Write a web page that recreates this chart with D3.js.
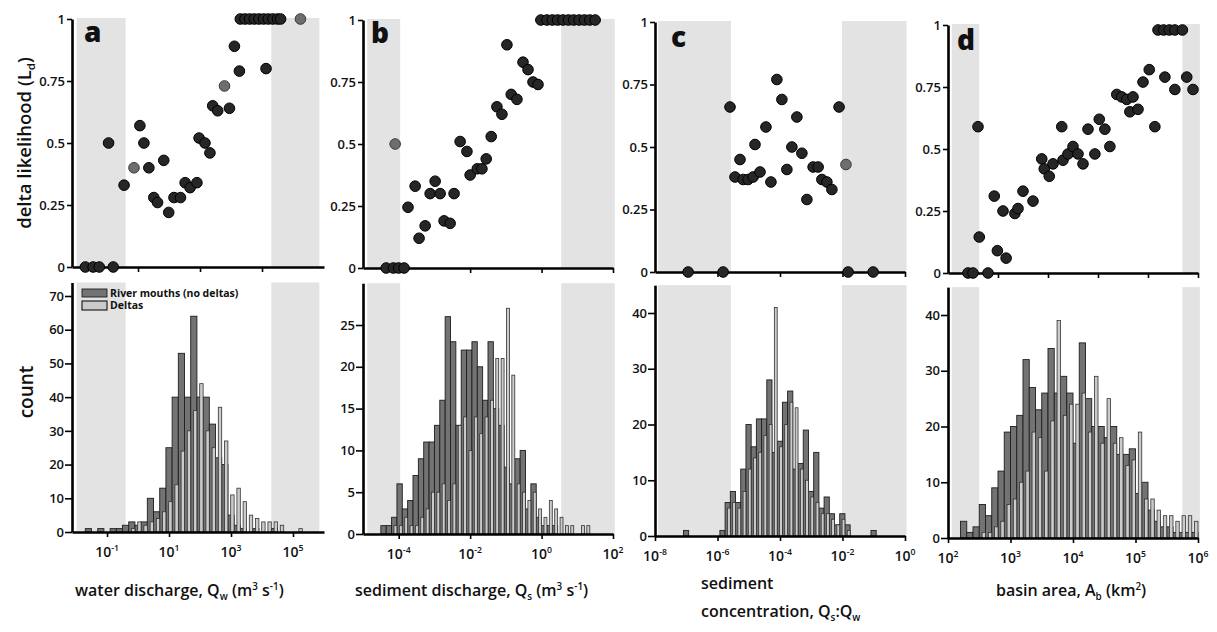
<!DOCTYPE html>
<html>
<head>
<meta charset="utf-8">
<script src="https://cdn.jsdelivr.net/npm/d3@7"></script>
<style>
  body { margin: 0; background: #fff; }
  text { font-family: 'Open Sans', 'DejaVu Sans', sans-serif; fill: #111; }
</style>
</head>
<body>
<div id="chart"></div>
<script>
// Scatter points: log10 of the x variable, delta likelihood
const aX = [-1.7, -1.45, -1.25, -0.8, -0.95, -0.45, 0.06, 0.19, 0.35, 0.51, 0.63, 0.83, 0.99, 1.16, 1.37, 1.52, 1.68, 1.9, 1.97, 2.16, 2.32, 2.41, 2.57, 2.95, 3.11, 3.27, 4.13, 3.3, 3.45, 3.6, 3.75, 3.9, 4.05, 4.2, 4.35, 4.5, 4.6]
const aY = [0, 0, 0, 0, 0.5, 0.33, 0.57, 0.5, 0.4, 0.28, 0.26, 0.43, 0.22, 0.28, 0.28, 0.34, 0.32, 0.34, 0.52, 0.5, 0.46, 0.65, 0.63, 0.64, 0.89, 0.79, 0.8, 1, 1, 1, 1, 1, 1, 1, 1, 1, 1]
const aGreyX = [-0.13, 2.79, 5.24]
const aGreyY = [0.4, 0.73, 1]

const bX = [-4.35, -4.15, -4.0, -3.85, -3.74, -3.54, -3.43, -3.26, -3.12, -2.98, -2.84, -2.73, -2.56, -2.45, -2.28, -2.09, -2.0, -1.8, -1.67, -1.55, -1.41, -1.25, -1.11, -0.97, -0.85, -0.69, -0.52, -0.38, -0.24, -0.1, -0.02, 0.15, 0.3, 0.45, 0.6, 0.75, 0.9, 1.05, 1.2, 1.35, 1.5]
const bY = [0, 0, 0, 0, 0.245, 0.33, 0.12, 0.17, 0.3, 0.35, 0.3, 0.19, 0.18, 0.3, 0.51, 0.47, 0.375, 0.4, 0.4, 0.44, 0.53, 0.65, 0.62, 0.9, 0.7, 0.68, 0.83, 0.8, 0.75, 0.74, 1, 1, 1, 1, 1, 1, 1, 1, 1, 1, 1]
const bGreyX = [-4.1]
const bGreyY = [0.5]

const cX = [-6.94, -5.82, -1.82, -1.02, -5.6, -5.44, -5.28, -5.18, -5.02, -4.86, -4.64, -4.8, -4.45, -4.29, -4.1, -3.94, -3.78, -3.62, -3.3, -3.46, -3.14, -2.94, -2.78, -2.66, -2.5, -2.34, -2.11]
const cY = [0, 0, 0, 0, 0.66, 0.38, 0.45, 0.37, 0.37, 0.38, 0.4, 0.51, 0.58, 0.36, 0.77, 0.69, 0.41, 0.5, 0.475, 0.62, 0.29, 0.42, 0.42, 0.37, 0.36, 0.33, 0.66]
const cGreyX = [-1.89]
const cGreyY = [0.43]

const dX = [2.32, 2.4, 2.64, 2.48, 2.5, 2.74, 2.79, 2.93, 2.88, 3.07, 3.12, 3.2, 3.36, 3.5, 3.54, 3.62, 3.68, 3.82, 3.84, 3.92, 4.0, 4.08, 4.16, 4.24, 4.35, 4.42, 4.51, 4.59, 4.7, 4.78, 4.86, 4.96, 4.91, 5.04, 5.12, 5.22, 5.31, 5.47, 5.63, 5.82, 5.92, 5.36, 5.45, 5.54, 5.63, 5.75]
const dY = [0, 0, 0, 0.59, 0.145, 0.31, 0.09, 0.06, 0.25, 0.24, 0.26, 0.33, 0.29, 0.46, 0.42, 0.39, 0.44, 0.59, 0.455, 0.48, 0.51, 0.48, 0.44, 0.58, 0.48, 0.62, 0.58, 0.51, 0.72, 0.71, 0.7, 0.71, 0.65, 0.66, 0.77, 0.82, 0.59, 0.79, 0.74, 0.79, 0.74, 0.98, 0.98, 0.98, 0.98, 0.98]
const dGreyX = []
const dGreyY = []

// Histograms: first bin (log10), bin width (decades), counts
const aBinStart = -1.7, aBinWidth = 0.2
const aRiver = [1, 0, 1, 0, 1, 1, 2, 3, 2, 3, 10, 6, 13, 25, 40, 53, 40, 64, 40, 40, 32, 22, 20, 5, 2, 1, 0, 1, 0, 0, 1, 0, 0, 0, 0]
const aDelta = [0, 0, 0, 0, 0, 0, 0, 1, 3, 2, 3, 4, 6, 9, 14, 24, 30, 36, 44, 30, 25, 37, 27, 11, 13, 9, 5, 4, 3, 3, 3, 2, 0, 0, 1]

const bBinStart = -4.5, bBinWidth = 0.15
const bRiver = [1, 1, 2, 6, 3, 4, 7, 9, 11, 11, 13, 16, 26, 23, 13, 22, 22, 23, 20, 16, 23, 15, 13, 8, 6, 9, 10, 3, 6, 2, 1, 1, 1, 0, 0, 0, 0, 0, 0]
const bDelta = [0, 0, 1, 1, 2, 1, 1, 2, 3, 5, 5, 6, 4, 6, 13, 14, 10, 14, 12, 14, 16, 21, 21, 27, 19, 6, 5, 4, 5, 3, 2, 4, 3, 2, 1, 1, 0, 1, 1]

const cBinStart = -7.09, cBinWidth = 0.1667
const cRiver = [1, 0, 0, 0, 0, 0, 0, 1, 6, 8, 6, 12, 20, 16, 21, 21, 28, 15, 17, 24, 26, 12, 13, 19, 8, 15, 5, 7, 4, 2, 4, 2, 0, 0, 0, 0, 1]
const cDelta = [0, 0, 0, 0, 0, 0, 0, 0, 5, 6, 5, 8, 12, 14, 15, 18, 20, 41, 16, 20, 24, 23, 12, 10, 7, 6, 4, 4, 3, 2, 3, 1, 0, 0, 0, 0, 0]

const dBinStart = 2.2, dBinWidth = 0.1
const dRiver = [3, 1, 2, 6, 4, 9, 12, 19, 20, 22, 32, 27, 23, 26, 34, 26, 29, 26, 17, 35, 25, 20, 20, 18, 20, 15, 15, 16, 8, 10, 5, 3, 2, 2, 1, 1, 1, 1]
const dDelta = [0, 0, 0, 1, 1, 2, 3, 6, 7, 10, 12, 19, 18, 12, 21, 39, 22, 24, 24, 26, 19, 29, 17, 25, 17, 18, 13, 14, 19, 7, 7, 5, 4, 4, 3, 4, 4, 3]

// Grey bands (log10 ranges)
const aShade = [[-1.98, -0.4], [4.3, 5.85]]
const bShade = [[-4.88, -3.96], [0.55, 2.05]]
const cShade = [[-7.9, -5.57], [-2.02, 0.05]]
const dShade = [[2.06, 2.5], [5.75, 6.03]]

// Ticks
const likeTicks = [0, 0.25, 0.5, 0.75, 1]
const likeLabels = ['0', '0.25', '0.5', '0.75', '1']
const aTopTicks = [0, 2, 4], aBotTicks = [-1, 1, 3, 5], aCountTicks = [0, 10, 20, 30, 40, 50, 60, 70]
const bTopTicks = [-2, 0, 2], bBotTicks = [-4, -2, 0, 2], bCountTicks = [0, 5, 10, 15, 20, 25]
const cTopTicks = [-6, -4, -2, 0], cBotTicks = [-8, -6, -4, -2, 0], cCountTicks = [0, 10, 20, 30, 40]
const dTopTicks = [2.8, 3.6, 4.4, 5.2, 6], dBotTicks = [2, 3, 4, 5, 6], dCountTicks = [0, 10, 20, 30, 40]

const width = 1217,
  height = 632

const svg = d3.select('#chart')
  .append('svg')
  .attr('width', width)
  .attr('height', height)
  .style('background', '#fff')

const shadeFill = '#e3e3e3'

// layout per panel (pixels) and its data
const panels = [
  { letter: 'a', lpos: [84, 42], dom: [-2.13, 6], rng: [72, 324], top: [267, 19], base: 532, cMax: 70, cPx: 296, cEnd: 74,
    sx: aX, sy: aY, gx: aGreyX, gy: aGreyY, start: aBinStart, bw: aBinWidth, river: aRiver, delta: aDelta,
    shade: aShade, topTicks: aTopTicks, botTicks: aBotTicks, countTicks: aCountTicks },
  { letter: 'b', lpos: [371, 43], dom: [-5, 2], rng: [363, 613], top: [268, 20], base: 534, cMax: 25, cPx: 325, cEnd: 30,
    sx: bX, sy: bY, gx: bGreyX, gy: bGreyY, start: bBinStart, bw: bBinWidth, river: bRiver, delta: bDelta,
    shade: bShade, topTicks: bTopTicks, botTicks: bBotTicks, countTicks: bCountTicks },
  { letter: 'c', lpos: [671, 47], dom: [-8, 0], rng: [655, 905], top: [272, 22], base: 536, cMax: 40, cPx: 313, cEnd: 45,
    sx: cX, sy: cY, gx: cGreyX, gy: cGreyY, start: cBinStart, bw: cBinWidth, river: cRiver, delta: cDelta,
    shade: cShade, topTicks: cTopTicks, botTicks: cBotTicks, countTicks: cCountTicks },
  { letter: 'd', lpos: [957, 50], dom: [2, 6], rng: [948, 1198], top: [273, 25], base: 538, cMax: 40, cPx: 315, cEnd: 45,
    sx: dX, sy: dY, gx: dGreyX, gy: dGreyY, start: dBinStart, bw: dBinWidth, river: dRiver, delta: dDelta,
    shade: dShade, topTicks: dTopTicks, botTicks: dBotTicks, countTicks: dCountTicks }
]

// text with sub/superscripts
const richText = (el, parts) => {
  let shift = 0
  parts.forEach(([txt, kind]) => {
    const target = kind === 'sub' ? 4 : kind === 'sup' ? -6 : 0
    el.append('tspan')
      .attr('dy', target - shift)
      .attr('font-size', kind ? '0.62em' : null)
      .text(txt)
    shift = target
  })
}

const styleAxis = (g) => {
  g.select('.domain').attr('stroke', '#000').attr('stroke-width', 2.6)
  g.selectAll('.tick line').attr('stroke', '#000').attr('stroke-width', 1.6)
  g.selectAll('.tick text').attr('font-size', 13).attr('font-weight', 600).attr('fill', '#111')
}

panels.forEach(p => {
  const x = d3.scaleLog().domain(p.dom.map(e => 10 ** e)).range(p.rng)
  const xe = e => x(10 ** e)
  const yTop = d3.scaleLinear().domain([0, 1]).range(p.top)
  const yBot = d3.scaleLinear().domain([0, p.cMax]).range([p.base, p.cPx])
  const g = svg.append('g')

  // grey bands
  p.shade.forEach(s => {
    g.append('rect')
      .attr('x', xe(s[0])).attr('width', xe(s[1]) - xe(s[0]))
      .attr('y', yTop(1) - 1).attr('height', yTop(0) - yTop(1) + 1)
      .attr('fill', shadeFill)
    g.append('rect')
      .attr('x', xe(s[0])).attr('width', xe(s[1]) - xe(s[0]))
      .attr('y', yBot(p.cEnd)).attr('height', yBot(0) - yBot(p.cEnd))
      .attr('fill', shadeFill)
  })

  // histogram bins
  const bins = p.river.map((r, i) => ({
    lo: p.start + i * p.bw,
    hi: p.start + (i + 1) * p.bw,
    r: r,
    d: p.delta[i]
  }))

  g.selectAll('rect.river')
    .data(bins.filter(b => b.r > 0))
    .enter()
    .append('rect')
    .attr('class', 'river')
    .attr('x', b => xe(b.lo))
    .attr('width', b => xe(b.hi) - xe(b.lo))
    .attr('y', b => yBot(b.r))
    .attr('height', b => yBot(0) - yBot(b.r))
    .attr('fill', '#737373')
    .attr('stroke', '#1e1e1e')
    .attr('stroke-width', 0.9)

  g.selectAll('rect.delta')
    .data(bins.filter(b => b.d > 0))
    .enter()
    .append('rect')
    .attr('class', 'delta')
    .attr('x', b => xe(b.lo) + 0.45 * (xe(b.hi) - xe(b.lo)))
    .attr('width', b => 0.55 * (xe(b.hi) - xe(b.lo)))
    .attr('y', b => yBot(b.d))
    .attr('height', b => yBot(0) - yBot(b.d))
    .attr('fill', '#cbcbcb')
    .attr('stroke', '#333')
    .attr('stroke-width', 0.8)

  // top axes
  g.append('g')
    .attr('transform', `translate(0,${p.top[0]})`)
    .call(d3.axisBottom(x).tickValues(p.topTicks.map(e => 10 ** e)).tickFormat('').tickSize(5).tickSizeOuter(0))
    .call(styleAxis)

  g.append('g')
    .attr('transform', `translate(${p.rng[0]},0)`)
    .call(d3.axisLeft(yTop).tickValues(likeTicks).tickFormat((d, i) => likeLabels[i]).tickSize(5).tickPadding(2).tickSizeOuter(0))
    .call(styleAxis)

  // bottom axes
  const yAxisBot = yBot.copy().domain([0, p.cEnd]).range([p.base, yBot(p.cEnd)])
  g.append('g')
    .attr('transform', `translate(0,${p.base})`)
    .call(d3.axisBottom(x).tickValues(p.botTicks.map(e => 10 ** e)).tickFormat('').tickSize(5).tickSizeOuter(0))
    .call(styleAxis)

  g.append('g')
    .attr('transform', `translate(${p.rng[0]},0)`)
    .call(d3.axisLeft(yAxisBot).tickValues(p.countTicks).tickFormat(d3.format('d')).tickSize(7).tickPadding(1).tickSizeOuter(0))
    .call(styleAxis)

  p.botTicks.forEach(e => {
    const t = g.append('text')
      .attr('x', xe(e))
      .attr('y', p.base + 25)
      .attr('text-anchor', 'middle')
      .attr('font-size', 14)
      .attr('font-weight', 600)
    richText(t, [['10'], [String(e), 'sup']])
  })

  // scatter points
  g.selectAll('circle.pt')
    .data(p.sx.map((v, i) => [v, p.sy[i]]))
    .enter()
    .append('circle')
    .attr('class', 'pt')
    .attr('cx', d => xe(d[0]))
    .attr('cy', d => yTop(d[1]))
    .attr('r', 5.3)
    .attr('fill', '#262626')
    .attr('stroke', '#000')
    .attr('stroke-width', 1)

  g.selectAll('circle.grey')
    .data(p.gx.map((v, i) => [v, p.gy[i]]))
    .enter()
    .append('circle')
    .attr('class', 'grey')
    .attr('cx', d => xe(d[0]))
    .attr('cy', d => yTop(d[1]))
    .attr('r', 5.3)
    .attr('fill', '#6e6e6e')
    .attr('stroke', '#3a3a3a')
    .attr('stroke-width', 1)

  // panel letter
  g.append('text')
    .attr('x', p.lpos[0])
    .attr('y', p.lpos[1])
    .attr('font-size', 28)
    .attr('font-weight', 800)
    .attr('fill', '#111')
    .text(p.letter)
})

// legend in panel a
const legend = svg.append('g')
legend.append('rect').attr('x', 82).attr('y', 289).attr('width', 25).attr('height', 8)
  .attr('fill', '#737373').attr('stroke', '#1e1e1e').attr('stroke-width', 0.9)
legend.append('rect').attr('x', 82).attr('y', 301).attr('width', 25).attr('height', 9)
  .attr('fill', '#cbcbcb').attr('stroke', '#222').attr('stroke-width', 1.2)
legend.append('text').attr('x', 110).attr('y', 297).attr('font-size', 10.5).attr('font-weight', 700)
  .text('River mouths (no deltas)')
legend.append('text').attr('x', 110).attr('y', 309).attr('font-size', 10.5).attr('font-weight', 700)
  .text('Deltas')

// axis titles
const yTitle = svg.append('text')
  .attr('transform', 'translate(31,143) rotate(-90)')
  .attr('text-anchor', 'middle')
  .attr('font-size', 18.5)
  .attr('font-weight', 600)
richText(yTitle, [['delta likelihood (L'], ['d', 'sub'], [')']])

svg.append('text')
  .attr('transform', 'translate(33,392) rotate(-90)')
  .attr('text-anchor', 'middle')
  .attr('font-size', 19)
  .attr('font-weight', 600)
  .text('count')

const titles = [
  { x: 75, y: 596, parts: [['water discharge, Q'], ['w', 'sub'], [' (m'], ['3', 'sup'], [' s'], ['-1', 'sup'], [')']] },
  { x: 355, y: 596, parts: [['sediment discharge, Q'], ['s', 'sub'], [' (m'], ['3', 'sup'], [' s'], ['-1', 'sup'], [')']] },
  { x: 701, y: 589, parts: [['sediment']] },
  { x: 701, y: 617, parts: [['concentration, Q'], ['s', 'sub'], [':Q'], ['w', 'sub']] },
  { x: 996, y: 596, parts: [['basin area, A'], ['b', 'sub'], [' (km'], ['2', 'sup'], [')']] }
]

titles.forEach(t => {
  const el = svg.append('text')
    .attr('x', t.x)
    .attr('y', t.y)
    .attr('font-size', 16)
    .attr('font-weight', 600)
  richText(el, t.parts)
})
</script>
</body>
</html>
